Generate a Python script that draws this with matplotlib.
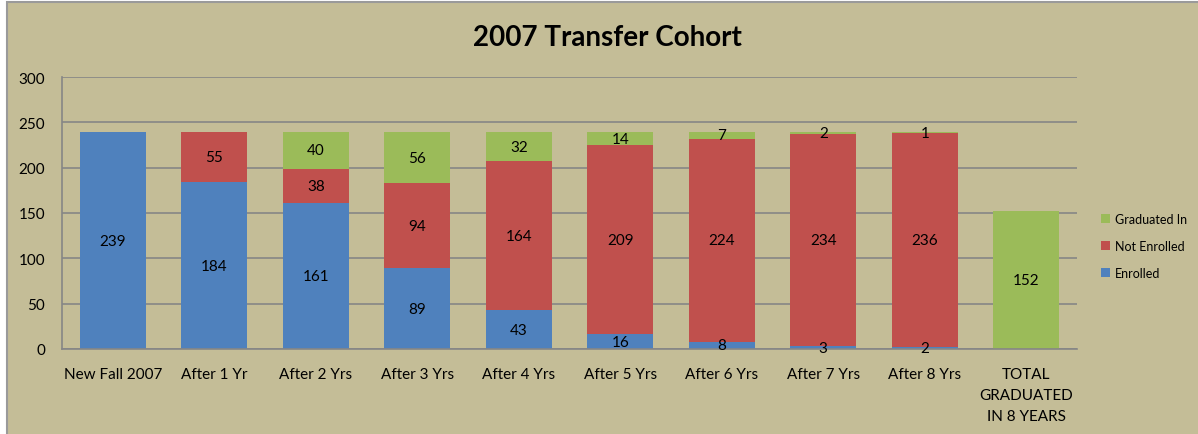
import numpy as np
import matplotlib.pyplot as plt
from matplotlib.patches import Rectangle

# --- Donnees -----------------------------------------------------------------
categories = ['New Fall 2007', 'After 1 Yr', 'After 2 Yrs', 'After 3 Yrs',
              'After 4 Yrs', 'After 5 Yrs', 'After 6 Yrs', 'After 7 Yrs',
              'After 8 Yrs', 'TOTAL\nGRADUATED\nIN 8 YEARS']
enrolled = [239, 184, 161, 89, 43, 16, 8, 3, 2, 0]
not_enrolled = [0, 55, 38, 94, 164, 209, 224, 234, 236, 0]
graduated = [0, 0, 40, 56, 32, 14, 7, 2, 1, 152]

# --- Style -------------------------------------------------------------------
plt.rcParams['font.family'] = ['Lato', 'DejaVu Sans']
fond = '#C4BD97'
bleu, rouge, vert = '#4F81BD', '#C0504D', '#9BBB59'
gris = '#868686'

fig = plt.figure(figsize=(11.98, 4.35), dpi=100, facecolor='white')
# cadre du graphique
fig.patches.append(Rectangle((7/1198, -0.01), 1.0, (432/435) + 0.01,
                             transform=fig.transFigure, facecolor=fond,
                             edgecolor='#9A9A9A', lw=1.5, zorder=-1))

ax = fig.add_axes([62/1198, 85/435, 1015/1198, 272/435])
ax.set_facecolor(fond)

x = np.arange(len(categories))
w = 0.65
enr = np.array(enrolled)
ne = np.array(not_enrolled)
gr = np.array(graduated)

b1 = ax.bar(x, enr, w, color=bleu, label='Enrolled', zorder=2)
b2 = ax.bar(x, ne, w, bottom=enr, color=rouge, label='Not Enrolled', zorder=2)
b3 = ax.bar(x, gr, w, bottom=enr + ne, color=vert, label='Graduated In',
            zorder=2)

# etiquettes de valeurs au centre de chaque segment
for vals, bottoms in ((enr, np.zeros_like(enr)), (ne, enr), (gr, enr + ne)):
    for xi, v, b in zip(x, vals, bottoms):
        if v > 0:
            ax.text(xi, b + v / 2, str(v), ha='center', va='center',
                    fontsize=11, color='black', zorder=3)

ax.set_xlim(-0.5, len(categories) - 0.5)
ax.set_ylim(0, 300)
ax.set_yticks(range(0, 301, 50))
ax.yaxis.grid(True, color=gris, lw=1.2, zorder=1)
ax.set_axisbelow(True)
ax.set_xticks(x)
ax.set_xticklabels(categories, fontsize=11, linespacing=1.65)
ax.tick_params(axis='y', labelsize=11, length=0, pad=12)
ax.tick_params(axis='x', length=0, pad=13)
for s in ('top', 'right'):
    ax.spines[s].set_visible(False)
ax.spines['left'].set_color(gris)
ax.spines['bottom'].set_color(gris)
ax.spines['left'].set_linewidth(1.2)
ax.spines['bottom'].set_linewidth(1.2)

fig.text(607/1198, 1 - 38/435, '2007 Transfer Cohort', ha='center',
         va='center', fontsize=20, fontweight='bold')

handles = [b3, b2, b1]
ax.legend(handles, [h.get_label() for h in handles], loc='center left',
          bbox_to_anchor=(1090/1198, 1 - 247/435),
          bbox_transform=fig.transFigure, frameon=False, fontsize=9,
          handlelength=0.7, handleheight=0.7, handletextpad=0.4,
          labelspacing=1.2)

fig.savefig('out.png', dpi=100, facecolor=fig.get_facecolor())
